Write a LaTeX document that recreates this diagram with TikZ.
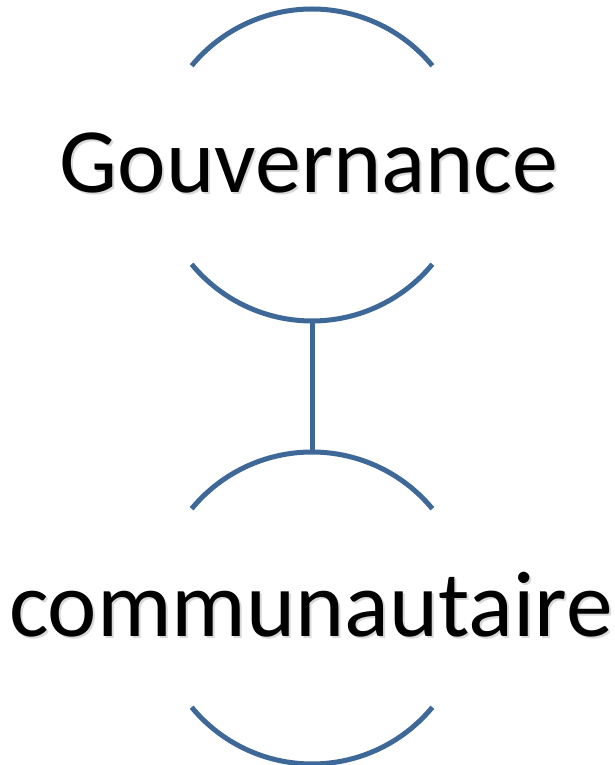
\documentclass[tikz,border=0pt]{standalone}
\usepackage{fontspec}
\setmainfont{Carlito}
\usetikzlibrary{calc}
\definecolor{arcblue}{RGB}{62,104,151}
\tikzset{
  arcline/.style={draw=arcblue, line width=5pt},
  bigtext/.style={inner sep=0pt, anchor=base, text=black},
  shadowtext/.style={inner sep=0pt, anchor=base, text=black!15}
}
\begin{document}
\begin{tikzpicture}[x=1pt,y=1pt]
\useasboundingbox (0,0) rectangle (615,765);
% circle centres (pixel coords converted: y = 765 - py)
\coordinate (c1) at (312,600);
\coordinate (c2) at (312,157);
% top circle arcs
\draw[arcline] ($(c1)+(39.5:156)$) arc[start angle=39.5, end angle=140.5, radius=156];
\draw[arcline] ($(c1)+(219.5:156)$) arc[start angle=219.5, end angle=320.5, radius=156];
% bottom circle arcs
\draw[arcline] ($(c2)+(39.5:156)$) arc[start angle=39.5, end angle=140.5, radius=156];
\draw[arcline] ($(c2)+(219.5:156)$) arc[start angle=219.5, end angle=320.5, radius=156];
% connector
\coordinate (t1) at ($(c1)+(0,-156)$);
\coordinate (t2) at ($(c2)+(0,156)$);
\draw[arcline] (t1) -- (t2);
% texts
\node[shadowtext] (g0) at (311,570) {\fontsize{92}{100}\selectfont Gouvernance};
\node[bigtext] (g) at (309,572) {\fontsize{92}{100}\selectfont Gouvernance};
\node[shadowtext] (k0) at (313,126) {\fontsize{93.5}{102}\selectfont communautaire};
\node[bigtext] (k) at (311,128) {\fontsize{93.5}{102}\selectfont communautaire};
\end{tikzpicture}
\end{document}
